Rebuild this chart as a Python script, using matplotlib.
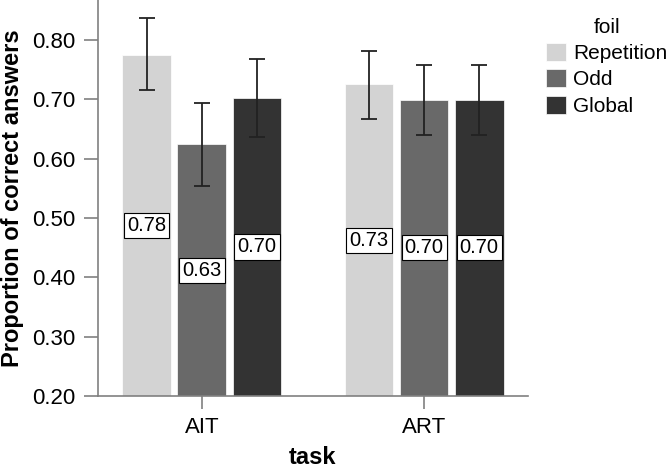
import matplotlib
matplotlib.use('Agg')
import matplotlib.pyplot as plt
import numpy as np

plt.rcParams['font.family'] = ['Liberation Sans', 'DejaVu Sans']

tasks = ['AIT', 'ART']
foils = ['Repetition', 'Odd', 'Global']
colors = ['#d3d3d3', '#696969', '#333333']

means = {
    'Repetition': [0.775, 0.725],
    'Odd': [0.624, 0.699],
    'Global': [0.702, 0.699],
}
err_low = {
    'Repetition': [0.715, 0.667],
    'Odd': [0.554, 0.640],
    'Global': [0.637, 0.640],
}
err_high = {
    'Repetition': [0.836, 0.781],
    'Odd': [0.694, 0.758],
    'Global': [0.768, 0.758],
}
labels = {
    'Repetition': ['0.78', '0.73'],
    'Odd': ['0.63', '0.70'],
    'Global': ['0.70', '0.70'],
}

ymin = 0.20
fig = plt.figure(figsize=(6.72, 4.68), dpi=100)
ax = fig.add_axes([0.1458, 0.1538, 0.6399, 0.8462])

x = np.arange(len(tasks))
width = 0.22
step = 0.248
for i, (foil, color) in enumerate(zip(foils, colors)):
    xs = x + (i - 1) * step
    vals = np.array(means[foil])
    lo = vals - np.array(err_low[foil])
    hi = np.array(err_high[foil]) - vals
    ax.bar(xs, vals - ymin, width, bottom=ymin, color=color, label=foil,
           edgecolor='white', linewidth=0.5, zorder=2)
    ax.errorbar(xs, vals, yerr=[lo, hi], fmt='none', ecolor='#222222',
                elinewidth=1.3, capsize=6, capthick=1.3, zorder=3)
    for xi, v, txt in zip(xs, vals, labels[foil]):
        ax.text(xi, (ymin + v) / 2, txt, ha='center', va='center', fontsize=14.5,
                bbox=dict(boxstyle='square,pad=0.15', facecolor='white',
                          edgecolor='black', linewidth=0.8), zorder=4)

ax.set_xlim(-0.468, 1.468)
ax.set_ylim(ymin, 0.867)
ax.set_yticks([0.2, 0.3, 0.4, 0.5, 0.6, 0.7, 0.8])
ax.set_yticklabels(['%.2f' % t for t in [0.2, 0.3, 0.4, 0.5, 0.6, 0.7, 0.8]])
ax.set_xticks(x)
ax.set_xticklabels(tasks)
ax.tick_params(axis='both', labelsize=16, color='#808080', width=1.2)
ax.tick_params(axis='y', length=10, pad=6)
ax.tick_params(axis='x', length=9, pad=6)

for side in ['top', 'right']:
    ax.spines[side].set_visible(False)
for side in ['left', 'bottom']:
    ax.spines[side].set_color('#808080')
    ax.spines[side].set_linewidth(1.2)

ax.set_ylabel('Proportion of correct answers', fontsize=17, fontweight='bold', labelpad=6)
ax.set_xlabel('task', fontsize=17, fontweight='bold', labelpad=6)

leg = ax.legend(title='foil', loc='upper left', bbox_to_anchor=(0.800, 0.98),
                bbox_transform=fig.transFigure, frameon=False, fontsize=15,
                title_fontsize=15, handlelength=0.95, handleheight=0.95,
                handletextpad=0.35, labelspacing=0.3, borderaxespad=0)

fig.savefig('out.png', dpi=100)
